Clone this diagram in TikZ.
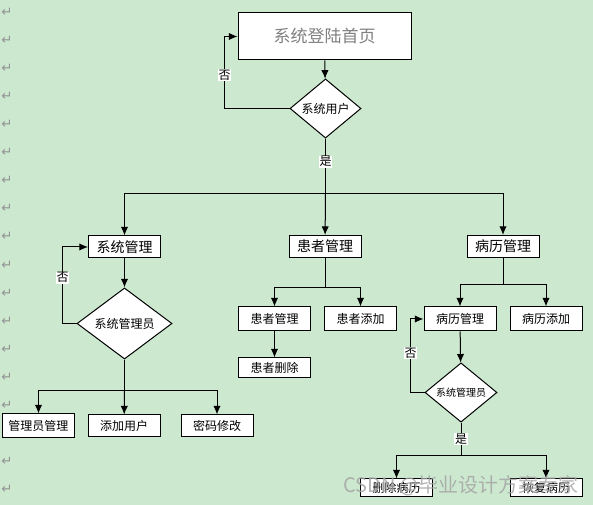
\documentclass[tikz,border=0pt]{standalone}
\usepackage{fontspec}
\setmainfont{Noto Sans CJK SC}
\newfontfamily\symfont{DejaVu Sans}
\usetikzlibrary{shapes.geometric,arrows.meta}
\definecolor{paper}{RGB}{204,232,207}
\definecolor{titlegray}{RGB}{128,128,128}

\begin{document}
\begin{tikzpicture}[x=0.75pt,y=-0.75pt,
    box/.style={draw,fill=white,line width=0.75pt,inner sep=0pt,minimum width=54pt,minimum height=16.5pt,font=\fontsize{9}{9}\selectfont},
    bigbox/.style={box,font=\fontsize{10.5}{10.5}\selectfont},
    decision/.style={draw,fill=white,diamond,inner sep=0pt,line width=0.75pt,minimum height=35.25pt,font=\fontsize{9}{9}\selectfont},
    arr/.style={line width=0.75pt,-{Latex[length=6.5pt,width=5.5pt]}},
    line/.style={line width=0.75pt},
    lbl/.style={fill=white,inner sep=0.6pt,font=\fontsize{9}{9}\selectfont},
    ret/.style={text=gray!85,font=\symfont\fontsize{10}{10}\selectfont},
    wmark/.style={text=gray!70,opacity=0.85,font=\fontsize{15}{15}\selectfont}]
      \fill[paper] (0,0) rectangle (593,505);
      \useasboundingbox (0,0) rectangle (593,505);
      % return marks down the left margin
      \foreach \i in {0,...,17}
        \node[ret] at (7,12+28.1*\i) {↵};
      % login
      \node[box,minimum width=129.75pt,minimum height=35.25pt,text=titlegray,font=\fontsize{12.75}{12.75}\selectfont] (home) at (324.5,36.5) {系统登陆首页};
      \node[decision,minimum width=53.25pt] (user) at (325.5,108.5) {系统用户};
      \node[bigbox] (sysm) at (124.5,247) {系统管理};
      \node[bigbox] (patm) at (325,246.5) {患者管理};
      \node[bigbox] (recm) at (503,246.5) {病历管理};
      % system branch
      \node[decision,minimum width=71.25pt] (adm) at (124.5,323.5) {系统管理员};
      \node[box,minimum height=18pt] (admm) at (38.5,426) {管理员管理};
      \node[box] (addu) at (124,426) {添加用户};
      \node[box] (pwd) at (217,426) {密码修改};
      % patient branch
      \node[box,minimum height=18pt] (pat2) at (274.5,319) {患者管理};
      \node[box,minimum height=18pt] (patadd) at (360.5,319) {患者添加};
      \node[box,minimum height=15pt] (patdel) at (274.5,368) {患者删除};
      % record branch
      \node[box,minimum height=18pt] (rec2) at (460,319) {病历管理};
      \node[box,minimum height=18pt] (recadd) at (546,319) {病历添加};
      \node[decision,minimum width=54pt,font=\fontsize{7.5}{7.5}\selectfont] (radm) at (461,392.5) {系统管理员};
      \node[box,minimum height=13.5pt] (recdel) at (396.5,488) {删除病历};
      \node[box,minimum height=13.5pt] (recres) at (546,488) {恢复病历};

      \draw[arr] (home) -- (user);
      \draw[arr] (user.west) -- ++(-65,0) |- node[lbl,pos=0.23] {否} (home.west);
      \draw[line] (user.south) -- node[lbl,pos=0.42] {是} ++(0,55) coordinate (j1);
      \draw[arr] (j1) -| (sysm);
      \draw[arr] (j1) -- (patm);
      \draw[arr] (j1) -| (recm);

      \draw[arr] (sysm) -- (adm);
      \draw[arr] (adm.west) -- ++(-14,0) |- node[lbl,pos=0.3] {否} (sysm.west);
      \draw[line] (adm.south) -- ++(0,31) coordinate (j2);
      \draw[arr] (j2) -| (admm);
      \draw[arr] (j2) -- (addu);
      \draw[arr] (j2) -| (pwd);

      \draw[line] (patm.south) -- ++(0,30) coordinate (j3);
      \draw[arr] (j3) -| (pat2);
      \draw[arr] (j3) -| (patadd);
      \draw[arr] (pat2) -- (patdel);

      \draw[line] (recm.south) -- ++(0,27) coordinate (j4);
      \draw[arr] (j4) -| (rec2);
      \draw[arr] (j4) -| (recadd);
      \draw[arr] (rec2) -- (radm);
      \draw[arr] (radm.west) -- ++(-14,0) |- node[lbl,pos=0.27] {否} (rec2.west);
      \draw[line] (radm.south) -- node[lbl,pos=0.5] {是} ++(0,33) coordinate (j5);
      \draw[arr] (j5) -| (recdel);
      \draw[arr] (j5) -| (recres);

      \node[wmark] (wm) at (461,486) {CSDN @毕业设计方案专家};
    \end{tikzpicture}
\end{document}
